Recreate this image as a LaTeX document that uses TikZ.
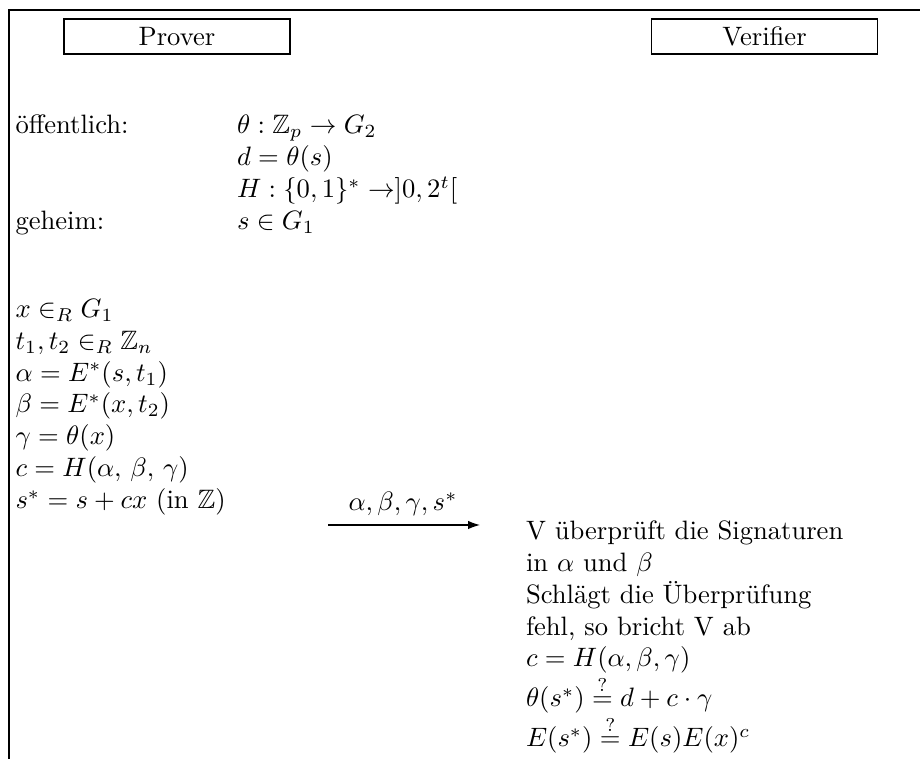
\documentclass[tikz,border=0pt]{standalone}
\usepackage{amssymb}
\usetikzlibrary{arrows.meta}
\begin{document}
\begin{tikzpicture}[x=0.3759pt,y=-0.3759pt,
  lbl/.style={anchor=base west,inner sep=0pt,outer sep=0pt},
  block/.style={anchor=north west,inner sep=0pt,outer sep=0pt,align=left},
  party/.style={draw,line width=0.45pt,inner sep=0pt,minimum width=85pt,minimum height=13.2pt},
  msg/.style={-{Latex[length=4.5pt,width=3.2pt]},line width=0.45pt}]
\useasboundingbox (0,0) rectangle (920,759);
\coordinate (tr) at (920,10);
\coordinate (tl) at (9,10);
\coordinate (bl) at (9,759);
\draw[line width=0.45pt] (tr) -- (tl) -- (bl);
\node[party] (prover) at (177,36.5) {Prover};
\node[party] (verifier) at (764.5,36.5) {Verifier};
% public / secret
\node[lbl] (pub) at (15.5,134) {öffentlich:};
\node[lbl] (pub1) at (237,134) {$\theta:\mathbb{Z}_p\rightarrow G_2$};
\node[lbl] (pub2) at (237,166) {$d=\theta(s)$};
\node[lbl] (pub3) at (237,198) {$H:\{0,1\}^*\rightarrow]0,2^t[$};
\node[lbl] (sec) at (15.5,230) {geheim:};
\node[lbl] (sec1) at (237,230) {$s\in G_1$};
% prover computations
\node[block] (pcomp) at (15.5,299) {$x\in_R G_1$\\
  $t_1,t_2\in_R \mathbb{Z}_n$\\
  $\alpha=E^*(s,t_1)$\\
  $\beta=E^*(x,t_2)$\\
  $\gamma=\theta(x)$\\
  $c=H(\alpha,\,\beta,\,\gamma)$\\
  $s^*=s+cx$ (in $\mathbb{Z}$)};
% message
\coordinate (ms) at (328,525);
\coordinate (me) at (480,525);
\draw[msg] (ms) -- (me);
\node[anchor=base,inner sep=0pt] (mlbl) at (403,511) {$\alpha,\beta,\gamma,s^*$};
% verifier
\node[block] (vcheck) at (526,520.5) {V überprüft die Signaturen\\
  in $\alpha$ und $\beta$\\
  Schlägt die Überprüfung\\
  fehl, so bricht V ab\\
  $c=H(\alpha,\beta,\gamma)$\\
  $\theta(s^*)\stackrel{?}{=}d+c\cdot\gamma$\\
  $E(s^*)\stackrel{?}{=}E(s)E(x)^c$};
\end{tikzpicture}
\end{document}
